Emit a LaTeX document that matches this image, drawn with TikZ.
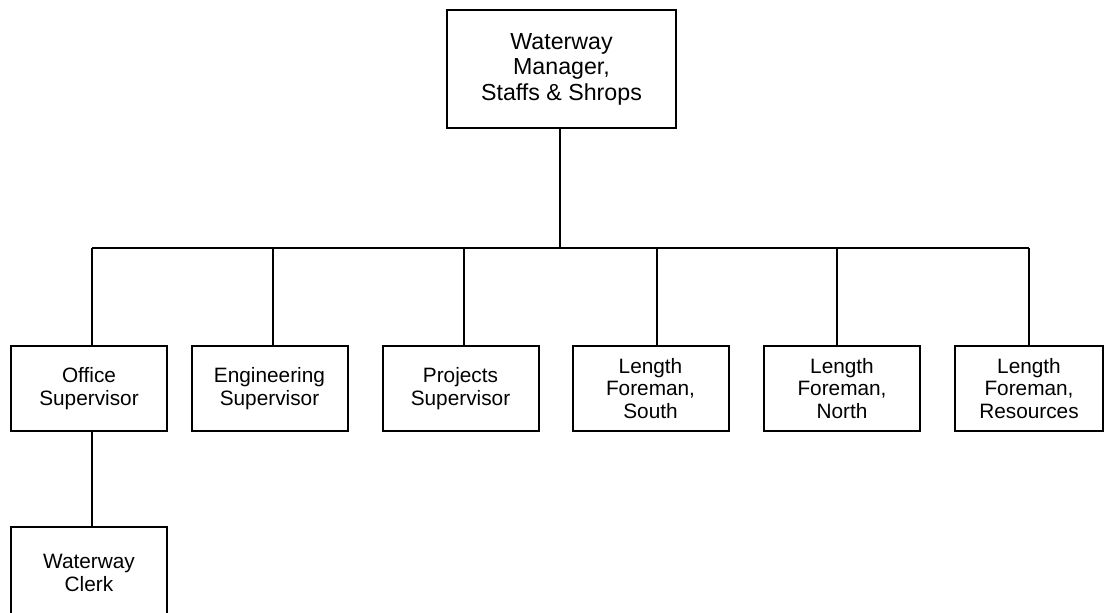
\documentclass[tikz,border=0pt]{standalone}
\usepackage{fontspec}
\setmainfont{Liberation Sans}
\begin{document}
\begin{tikzpicture}[x=1pt,y=-1pt,
  box/.style={draw, line width=2pt, minimum width=156pt, minimum height=85pt, inner sep=0pt, align=center, font=\fontsize{20.8}{22.5}\selectfont},
  topbox/.style={box, minimum width=229pt, minimum height=118pt, font=\fontsize{23.2}{25.5}\selectfont},
  link/.style={line width=2pt}]
\useasboundingbox (0,0) rectangle (1104,613);
\clip (0,0) rectangle (1104,613);
\node[topbox] (top) at (561.5,69) {Waterway\\Manager,\\Staffs \& Shrops};
\node[box] (office) at (89,388.5) {Office\\Supervisor};
\node[box] (eng) at (269.5,388.5) {Engineering\\Supervisor};
\node[box] (proj) at (460.5,388.5) {Projects\\Supervisor};
\node[box] (south) at (650.5,388.5) {Length\\Foreman,\\South};
\node[box] (north) at (842,388.5) {Length\\Foreman,\\North};
\node[box, minimum width=148pt] (res) at (1029,388.5) {Length\\Foreman,\\Resources};
\node[box, minimum height=92pt] (clerk) at (89,573) {Waterway\\Clerk};
\coordinate (busL) at (92,248);
\coordinate (busR) at (1029,248);
\draw[link] (busL) -- (busR);
\draw[link] ([xshift=-1.5pt]top.south) -- ([xshift=-1.5pt]top.south |- busL);
\draw[link] ([xshift=3pt]office.north) -- ([xshift=3pt]office.north |- busL);
\draw[link] ([xshift=3.5pt]eng.north) -- ([xshift=3.5pt]eng.north |- busL);
\draw[link] ([xshift=3.5pt]proj.north) -- ([xshift=3.5pt]proj.north |- busL);
\draw[link] ([xshift=6.5pt]south.north) -- ([xshift=6.5pt]south.north |- busL);
\draw[link] ([xshift=-5pt]north.north) -- ([xshift=-5pt]north.north |- busL);
\draw[link] (res.north) -- (res.north |- busL);
\draw[link] ([xshift=3pt]office.south) -- ([xshift=3pt]office.south |- clerk.north);
\end{tikzpicture}
\end{document}
